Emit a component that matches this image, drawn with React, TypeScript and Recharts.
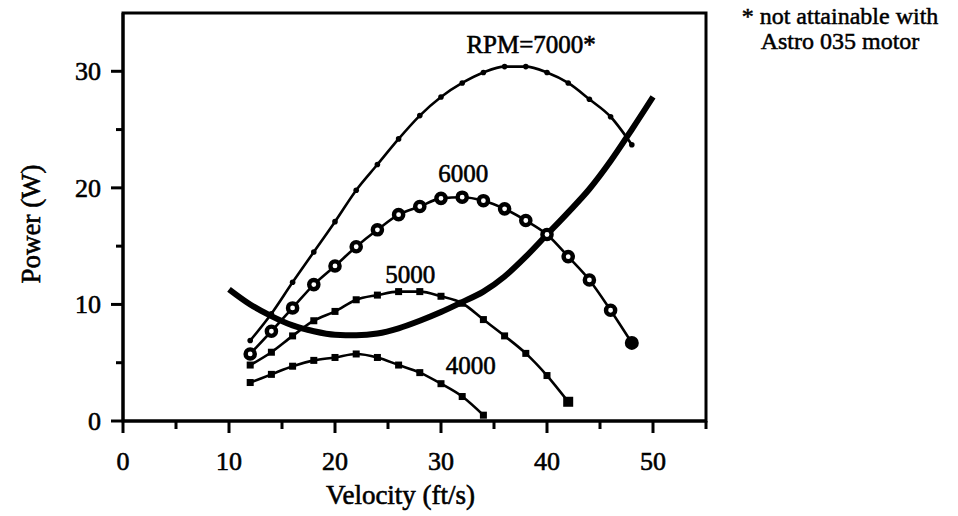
import React from "react";
import {
  Label,
  Line,
  LineChart,
  ReferenceArea,
  ReferenceDot,
  XAxis,
  YAxis,
} from "recharts";

const FONT = '"Liberation Serif", "Times New Roman", serif';

// velocity (ft/s) / power (W)
const v7000 = [12, 14, 16, 18, 20, 22, 24, 26, 28, 30, 32, 34, 36, 38, 40, 42, 44, 46, 48];
const p7000 = [6.9, 9.2, 11.9, 14.5, 17.1, 19.8, 22.0, 24.2, 26.2, 27.8, 29.0, 29.9, 30.4, 30.4, 29.9, 29.0, 27.6, 26.1, 23.7];

const v6000 = [12, 14, 16, 18, 20, 22, 24, 26, 28, 30, 32, 34, 36, 38, 40, 42, 44, 46, 48];
const p6000 = [5.75, 7.7, 9.7, 11.7, 13.3, 14.95, 16.4, 17.7, 18.4, 19.1, 19.2, 18.9, 18.2, 17.2, 16.0, 14.1, 12.1, 9.5, 6.7];

const v5000 = [12, 14, 16, 18, 20, 22, 24, 26, 28, 30, 32, 34, 36, 38, 40, 42];
const p5000 = [4.8, 5.9, 7.3, 8.6, 9.4, 10.4, 10.8, 11.1, 11.1, 10.7, 10.1, 8.7, 7.3, 5.8, 3.9, 1.65];

const v4000 = [12, 14, 16, 18, 20, 22, 24, 26, 28, 30, 32, 34];
const p4000 = [3.3, 4.0, 4.7, 5.2, 5.45, 5.75, 5.45, 4.8, 4.15, 3.2, 2.1, 0.5];

// thick curve: power required
const vReq = [10, 12, 14, 16, 18, 20, 22, 24, 26, 28, 30, 32, 34, 36, 38, 40, 42, 44, 46, 48, 50];
const pReq = [11.3, 10.0, 9.0, 8.2, 7.7, 7.4, 7.35, 7.5, 7.95, 8.6, 9.35, 10.2, 11.1, 12.4, 14.1, 16.0, 17.9, 19.9, 22.3, 25.0, 27.8];

const xTicks = [0, 5, 10, 15, 20, 25, 30, 35, 40, 45, 50, 55];
const yTicks = [0, 5, 10, 15, 20, 25, 30, 35];

const curveLabels = [
  { text: "RPM=7000*", v: 38.5, p: 32.3 },
  { text: "6000", v: 32.1, p: 21.3 },
  { text: "5000", v: 27.1, p: 12.6 },
  { text: "4000", v: 32.8, p: 4.8 },
];

const footnote = ["* not attainable with", "Astro 035 motor"];

const zip = (vs: number[], ps: number[]) => vs.map((v, i) => ({ v, p: ps[i] }));

const d7000 = zip(v7000, p7000);
const d6000 = zip(v6000, p6000);
const d5000 = zip(v5000, p5000);
const d4000 = zip(v4000, p4000);
const dReq = zip(vReq, pReq);

// scanned type looks heavier than plain Liberation Serif
const inked = { stroke: "#000", strokeWidth: 0.6 };

function XTick(props: any) {
  const { x, y, payload } = props;
  const major = payload.value % 10 === 0;
  return (
    <g>
      <line x1={x} x2={x} y1={y} y2={y + (major ? 12 : 8)} stroke="#000" strokeWidth={3} />
      {major && (
        <text x={x} y={y + 49} textAnchor="middle" fontSize={26} fontFamily={FONT} fill="#000" {...inked}>
          {payload.value}
        </text>
      )}
    </g>
  );
}

function YTick(props: any) {
  const { x, y, payload } = props;
  const major = payload.value % 10 === 0;
  if (payload.value === 35) return <g />;
  return (
    <g>
      <line x1={x - (major ? 12 : 7)} x2={x} y1={y} y2={y} stroke="#000" strokeWidth={3} />
      {major && (
        <text x={x - 22} y={y + 9} textAnchor="end" fontSize={26} fontFamily={FONT} fill="#000" {...inked}>
          {payload.value}
        </text>
      )}
    </g>
  );
}

const smallDot = (props: any) => (
  <circle key={props.index} cx={props.cx} cy={props.cy} r={2.8} fill="#000" />
);

const ringDot = (props: any) => {
  const last = props.index === v6000.length - 1;
  if (last) {
    return <circle key={props.index} cx={props.cx} cy={props.cy} r={7} fill="#000" />;
  }
  return (
    <circle
      key={props.index}
      cx={props.cx}
      cy={props.cy}
      r={4.6}
      fill="#fff"
      stroke="#000"
      strokeWidth={4.4}
    />
  );
};

const squareDot = (bigLast: boolean, n: number) => (props: any) => {
  const s = bigLast && props.index === n - 1 ? 10 : 7;
  return (
    <rect
      key={props.index}
      x={props.cx - s / 2}
      y={props.cy - s / 2}
      width={s}
      height={s}
      fill="#000"
    />
  );
};

export default function App() {
  return (
    <div style={{ position: "absolute", left: 0, top: 0, width: 958, height: 516, background: "#fff" }}>
      <LineChart width={958} height={516} margin={{ top: 13, right: 252, bottom: 0, left: 0 }}>
        <XAxis
          type="number"
          dataKey="v"
          domain={[0, 55]}
          ticks={xTicks}
          interval={0}
          tickSize={0}
          tickMargin={0}
          tick={XTick}
          tickLine={false}
          axisLine={{ stroke: "#000", strokeWidth: 3 }}
          height={95}
          allowDataOverflow
        >
          <Label
            content={({ viewBox }: any) => (
              <text
                x={viewBox.x + viewBox.width / 2 - 14}
                y={viewBox.y + 83}
                textAnchor="middle"
                fontSize={27}
                fontFamily={FONT}
                fill="#000"
                {...inked}
              >
                Velocity (ft/s)
              </text>
            )}
          />
        </XAxis>
        <YAxis
          type="number"
          domain={[0, 35]}
          ticks={yTicks}
          interval={0}
          tickSize={0}
          tickMargin={0}
          tick={YTick}
          tickLine={false}
          axisLine={{ stroke: "#000", strokeWidth: 3 }}
          width={123}
          allowDataOverflow
        >
          <Label
            content={({ viewBox }: any) => {
              const cx = viewBox.x + 40;
              const cy = viewBox.y + viewBox.height / 2 + 7;
              return (
                <text
                  x={cx}
                  y={cy}
                  transform={`rotate(-90, ${cx}, ${cy})`}
                  textAnchor="middle"
                  fontSize={27}
                  fontFamily={FONT}
                  fill="#000"
                  {...inked}
                >
                  Power (W)
                </text>
              );
            }}
          />
        </YAxis>
        <ReferenceArea x1={0} x2={55} y1={0} y2={35} fill="none" stroke="#000" strokeWidth={3} />
        <Line
          data={dReq}
          dataKey="p"
          type="monotone"
          stroke="#000"
          strokeWidth={6}
          dot={false}
          isAnimationActive={false}
        />
        <Line
          data={d7000}
          dataKey="p"
          type="monotone"
          stroke="#000"
          strokeWidth={2.6}
          dot={smallDot}
          isAnimationActive={false}
        />
        <Line
          data={d6000}
          dataKey="p"
          type="monotone"
          stroke="#000"
          strokeWidth={2.6}
          dot={ringDot}
          isAnimationActive={false}
        />
        <Line
          data={d5000}
          dataKey="p"
          type="monotone"
          stroke="#000"
          strokeWidth={2.6}
          dot={squareDot(true, v5000.length)}
          isAnimationActive={false}
        />
        <Line
          data={d4000}
          dataKey="p"
          type="monotone"
          stroke="#000"
          strokeWidth={2.6}
          dot={squareDot(false, v4000.length)}
          isAnimationActive={false}
        />
        {curveLabels.map((c) => (
          <ReferenceDot
            key={c.text}
            x={c.v}
            y={c.p}
            r={0}
            stroke="none"
            fill="none"
            label={{
              value: c.text,
              position: "center",
              fontSize: 25,
              fontFamily: FONT,
              fill: "#000",
              stroke: "#000",
              strokeWidth: 0.6,
            }}
          />
        ))}
      </LineChart>
      <div
        style={{
          position: "absolute",
          left: 740,
          top: 4,
          width: 200,
          textAlign: "center",
          fontFamily: FONT,
          fontSize: 24,
          lineHeight: "25px",
          color: "#000",
          whiteSpace: "nowrap",
          WebkitTextStroke: "0.5px #000",
        }}
      >
        {footnote.map((t) => (
          <div key={t}>{t}</div>
        ))}
      </div>
    </div>
  );
}
